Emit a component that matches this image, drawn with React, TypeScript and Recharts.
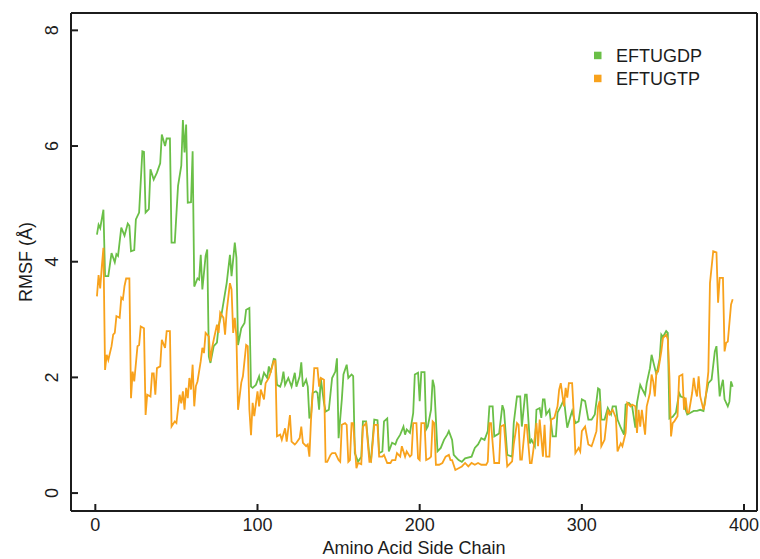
import { LineChart, Line, XAxis, YAxis, Legend, Label } from "recharts";

// EF-Tu RMSF per residue
const gdpResidue = [
  1, 2, 3, 5, 6, 8, 10, 12, 13, 14, 16, 18, 20, 21, 22, 24, 25, 27, 29, 30,
  31, 33, 34, 36, 38, 40, 41, 43, 44, 46, 47, 49, 51, 53, 54, 55, 56, 57, 59, 60,
  61, 63, 64, 65, 66, 68, 69, 70, 71, 73, 75, 76, 78, 80, 81, 83, 84, 86, 87, 88,
  90, 92, 93, 95, 96, 97, 99, 101, 102, 104, 106, 107, 108, 110, 111, 112, 114, 115, 116, 117,
  119, 121, 123, 124, 126, 127, 128, 130, 131, 132, 133, 134, 136, 137, 138, 139, 141, 142, 144, 146,
  148, 149, 150, 152, 153, 155, 156, 158, 159, 160, 162, 164, 165, 167, 169, 170, 172, 174, 175, 177,
  178, 180, 181, 183, 185, 186, 188, 190, 191, 192, 194, 196, 197, 199, 200, 201, 203, 204, 205, 207,
  208, 209, 211, 213, 215, 217, 218, 220, 221, 223, 224, 226, 228, 232, 234, 236, 238, 240, 242, 243,
  245, 246, 249, 251, 252, 254, 257, 258, 260, 262, 263, 265, 266, 268, 269, 271, 272, 274, 275, 276,
  277, 278, 280, 282, 284, 285, 287, 289, 290, 291, 293, 294, 296, 298, 300, 302, 304, 306, 308, 310,
  311, 312, 314, 316, 318, 319, 321, 322, 324, 326, 327, 329, 331, 333, 334, 336, 337, 339, 340, 342,
  343, 345, 346, 348, 349, 350, 352, 353, 354, 356, 358, 360, 361, 363, 364, 365, 367, 369, 371, 373,
  375, 376, 378, 380, 382, 383, 384, 385, 386, 387, 388, 390, 391, 392, 393,
];
const gdpRmsf = [
  4.47, 4.64, 4.58, 4.9, 3.75, 3.75, 4.15, 3.99, 4.13, 4.1, 4.59, 4.45, 4.66, 4.62, 4.18, 4.2, 4.73, 4.85, 5.91, 5.9,
  4.85, 4.91, 5.6, 5.42, 5.54, 5.7, 6.2, 6.0, 6.13, 6.13, 4.33, 4.33, 5.31, 5.66, 6.45, 5.89, 6.37, 5.02, 5.03, 5.91,
  3.57, 3.71, 3.69, 4.12, 3.52, 4.1, 4.21, 2.36, 2.25, 2.54, 2.6, 2.89, 3.12, 3.46, 3.63, 4.12, 3.75, 4.33, 4.07, 2.56,
  2.85, 2.94, 3.17, 3.2, 1.84, 1.82, 1.87, 2.02, 1.87, 2.08, 1.99, 2.19, 2.08, 2.32, 2.31, 1.87, 1.84, 1.93, 2.1, 1.87,
  1.99, 1.84, 2.08, 1.84, 2.02, 2.26, 1.84, 1.96, 1.84, 1.29, 1.35, 1.73, 1.76, 1.73, 1.44, 1.99, 1.56, 1.41, 1.44, 1.99,
  2.1, 2.33, 0.95, 1.62, 2.05, 2.22, 1.99, 2.05, 2.02, 0.69, 0.54, 0.63, 1.24, 1.24, 0.63, 0.57, 1.27, 1.26, 0.69, 0.72,
  1.24, 1.29, 0.72, 0.87, 0.84, 0.92, 1.01, 1.15, 1.01, 1.1, 1.04, 1.38, 2.05, 2.08, 1.59, 2.09, 2.09, 1.1, 1.15, 1.44,
  1.96, 1.84, 0.72, 0.78, 0.92, 1.01, 1.07, 0.92, 0.66, 0.6, 0.57, 0.54, 0.6, 0.63, 0.78, 0.84, 0.95, 0.92, 1.07, 1.5,
  1.5, 0.98, 1.03, 1.52, 1.43, 0.66, 0.63, 1.21, 1.67, 1.67, 1.15, 1.7, 1.7, 0.86, 0.92, 0.81, 1.44, 1.47, 1.3, 1.62,
  1.62, 1.36, 1.44, 0.98, 0.98, 1.39, 1.5, 1.62, 1.36, 1.13, 1.33, 1.42, 1.21, 1.24, 1.62, 1.59, 1.27, 1.27, 1.36, 1.81,
  1.79, 1.27, 1.27, 1.47, 1.36, 1.5, 1.5, 1.27, 1.13, 1.01, 1.53, 1.56, 1.5, 1.13, 1.56, 1.87, 1.81, 1.7, 1.9, 2.16,
  2.39, 2.16, 2.05, 2.33, 2.74, 2.7, 2.8, 2.77, 1.29, 1.32, 1.39, 1.73, 1.67, 1.65, 1.44, 1.36, 1.39, 1.42, 1.42, 1.44,
  1.42, 1.62, 1.9, 1.96, 2.45, 2.54, 2.1, 1.67, 1.84, 1.96, 1.62, 1.5, 1.58, 1.93, 1.84,
];

const gtpResidue = [
  1, 2, 3, 4, 5, 6, 7, 8, 10, 11, 12, 13, 15, 16, 17, 18, 19, 21, 22, 23,
  24, 26, 27, 28, 30, 31, 32, 34, 35, 36, 37, 38, 40, 41, 43, 44, 46, 47, 49, 50,
  52, 53, 54, 55, 56, 57, 58, 59, 60, 61, 62, 63, 65, 66, 67, 68, 70, 71, 72, 73,
  75, 76, 77, 79, 80, 81, 83, 84, 85, 86, 87, 88, 90, 91, 93, 94, 95, 96, 97, 98,
  100, 101, 102, 104, 105, 107, 108, 110, 111, 112, 114, 115, 117, 118, 120, 121, 123, 124, 126, 127,
  128, 130, 131, 132, 133, 135, 137, 138, 139, 141, 142, 143, 145, 146, 148, 150, 151, 152, 154, 155,
  156, 157, 158, 159, 161, 162, 164, 165, 167, 169, 170, 172, 174, 175, 177, 178, 180, 182, 183, 185,
  186, 188, 189, 191, 192, 194, 195, 196, 198, 199, 200, 201, 203, 204, 206, 207, 208, 209, 210, 212,
  214, 216, 218, 219, 220, 222, 224, 226, 228, 230, 232, 234, 236, 238, 241, 242, 243, 244, 246, 249,
  250, 252, 254, 257, 258, 260, 261, 262, 263, 265, 266, 268, 269, 270, 272, 273, 274, 276, 277, 278,
  280, 281, 283, 285, 286, 287, 289, 290, 291, 292, 294, 295, 296, 298, 299, 300, 302, 304, 306, 307,
  309, 310, 311, 312, 314, 316, 317, 319, 321, 322, 324, 325, 327, 328, 330, 331, 333, 334, 335, 336,
  337, 339, 340, 342, 343, 344, 345, 346, 347, 349, 350, 352, 353, 354, 355, 356, 357, 359, 360, 362,
  363, 364, 365, 366, 368, 369, 370, 371, 372, 373, 375, 376, 378, 379, 381, 383, 384, 385, 387, 388,
  389, 390, 392, 393,
];
const gtpRmsf = [
  3.4, 3.77, 3.54, 3.92, 4.24, 2.13, 2.39, 2.3, 2.54, 2.74, 2.77, 3.06, 3.03, 3.38, 3.35, 3.58, 3.71, 3.71, 1.64, 2.1,
  1.93, 2.54, 2.56, 2.88, 2.85, 1.35, 1.7, 1.67, 2.07, 2.07, 1.7, 2.16, 2.19, 2.65, 2.51, 2.8, 2.8, 1.15, 1.24, 1.21,
  1.7, 1.55, 1.76, 1.44, 1.82, 1.64, 1.99, 1.79, 2.22, 1.5, 1.85, 1.93, 2.28, 2.51, 2.42, 2.77, 2.71, 2.28, 2.51, 2.65,
  2.91, 2.77, 3.12, 3.03, 2.74, 3.14, 3.63, 3.52, 2.77, 3.03, 2.71, 1.44, 1.91, 2.02, 2.56, 2.54, 1.44, 1.0, 1.56, 1.33,
  1.76, 1.5, 1.79, 1.62, 1.9, 1.99, 2.08, 2.28, 2.28, 0.98, 1.01, 0.92, 1.12, 0.89, 1.35, 0.89, 0.84, 0.87, 0.95, 1.15,
  0.87, 0.81, 0.84, 0.63, 1.27, 2.16, 2.16, 1.84, 1.99, 1.96, 0.54, 0.54, 0.66, 0.69, 0.69, 0.57, 0.54, 1.18, 1.21, 1.18,
  0.54, 0.57, 1.21, 1.21, 0.43, 0.52, 0.5, 1.15, 1.21, 0.54, 0.54, 1.18, 1.18, 0.63, 0.63, 0.66, 0.52, 0.52, 0.57, 0.57,
  0.69, 0.63, 0.81, 0.63, 0.72, 0.63, 0.66, 1.21, 1.21, 0.6, 0.57, 1.21, 1.21, 0.57, 0.6, 0.63, 1.24, 1.21, 0.49, 0.49,
  0.52, 0.63, 0.66, 0.57, 0.57, 0.4, 0.43, 0.46, 0.52, 0.46, 0.52, 0.49, 0.52, 0.49, 0.49, 0.54, 1.21, 1.21, 0.52, 0.52,
  1.15, 1.18, 0.46, 0.55, 0.84, 1.21, 1.18, 0.58, 0.58, 1.18, 1.18, 0.52, 0.52, 0.72, 1.21, 0.81, 1.27, 0.63, 1.18, 0.63,
  0.63, 1.27, 1.3, 1.5, 1.79, 1.9, 1.5, 1.82, 1.65, 1.9, 1.9, 1.38, 0.69, 0.78, 0.72, 1.07, 1.15, 0.84, 0.81, 0.89,
  1.07, 1.5, 1.59, 0.81, 0.92, 1.44, 1.36, 1.44, 1.3, 0.72, 0.86, 0.81, 1.04, 1.56, 1.5, 1.53, 1.5, 1.04, 1.44, 1.15,
  1.44, 1.01, 1.5, 1.73, 2.05, 1.93, 1.67, 2.1, 2.1, 2.45, 2.68, 2.74, 2.66, 2.02, 0.98, 1.21, 1.24, 1.33, 2.02, 2.05,
  1.44, 1.65, 1.39, 1.39, 1.73, 1.99, 1.79, 1.67, 2.02, 1.67, 1.44, 1.56, 2.1, 3.63, 4.18, 4.16, 3.29, 3.72, 3.72, 2.45,
  2.6, 2.62, 3.26, 3.35,
];

const xTicks = [0, 100, 200, 300, 400];
const yTicks = [0, 2, 4, 6, 8];
const xDomain = [-15, 408];
const yDomain = [-0.31, 8.3];

const gdpData = gdpResidue.map((res, i) => ({ res, rmsf: gdpRmsf[i] }));
const gtpData = gtpResidue.map((res, i) => ({ res, rmsf: gtpRmsf[i] }));

const FONT = "'Liberation Sans', Arial, Helvetica, sans-serif";
const INK = "#1c1c1c";
const GREEN = "#6abf47";
const ORANGE = "#f8a21c";

const axisLine = { stroke: INK, strokeWidth: 2 };

function YTick({ x, y, payload }: any) {
  return (
    <text
      x={x}
      y={y}
      transform={`rotate(-90 ${x} ${y})`}
      textAnchor="middle"
      dy="0.36em"
      fontSize={18}
      fontFamily={FONT}
      fill={INK}
    >
      {payload.value}
    </text>
  );
}

function YTitle(props: any) {
  const vb = props.viewBox || { x: 0, y: 13, width: 71, height: 498 };
  const cx = vb.x + 25.5;
  const cy = vb.y + vb.height / 2;
  return (
    <text
      x={cx}
      y={cy}
      transform={`rotate(-90 ${cx} ${cy})`}
      textAnchor="middle"
      dy="0.36em"
      fontSize={18}
      fontFamily={FONT}
      fill={INK}
    >
      RMSF (Å)
    </text>
  );
}

function LegendBox({ payload }: any) {
  return (
    <svg width={160} height={52}>
      {(payload || []).map((p: any, i: number) => (
        <g key={p.value}>
          <rect x={4} y={11.7 + i * 23} width={7.5} height={7.5} fill={p.color} />
          <text x={26} y={22.3 + i * 22.5} fontSize={18} fontFamily={FONT} fill={INK}>
            {p.value}
          </text>
        </g>
      ))}
    </svg>
  );
}

export default function App() {
  return (
    <div style={{ position: "absolute", left: 0, top: 0, background: "#fff" }}>
      <LineChart width={760} height={559} margin={{ top: 12, right: 2, bottom: 0, left: 0 }}>
        <XAxis
          dataKey="res"
          type="number"
          domain={xDomain}
          ticks={xTicks}
          interval={0}
          allowDataOverflow
          height={48}
          tickSize={-7}
          tickMargin={14}
          axisLine={axisLine}
          tickLine={axisLine}
          tick={{ fontSize: 18, fontFamily: FONT, fill: INK }}
        >
          <Label
            value="Amino Acid Side Chain"
            position="insideBottom"
            offset={5}
            style={{ fontSize: 18, fontFamily: FONT, fill: INK }}
          />
        </XAxis>
        <XAxis
          xAxisId="top"
          orientation="top"
          type="number"
          domain={xDomain}
          ticks={xTicks}
          interval={0}
          allowDataOverflow
          height={1}
          tickSize={-7}
          axisLine={axisLine}
          tickLine={axisLine}
          tick={false}
        />
        <YAxis
          type="number"
          domain={yDomain}
          ticks={yTicks}
          interval={0}
          allowDataOverflow
          width={71}
          tickSize={-7}
          tickMargin={26}
          axisLine={axisLine}
          tickLine={axisLine}
          tick={<YTick />}
        >
          <Label content={<YTitle />} />
        </YAxis>
        <YAxis
          yAxisId="right"
          orientation="right"
          type="number"
          domain={yDomain}
          ticks={yTicks}
          interval={0}
          allowDataOverflow
          width={1}
          tickSize={-7}
          axisLine={axisLine}
          tickLine={axisLine}
          tick={false}
        />
        <Legend
          layout="vertical"
          align="center"
          verticalAlign="middle"
          content={<LegendBox />}
          wrapperStyle={{ left: 590, top: 40, width: 160, height: 52 }}
        />
        <Line
          data={gdpData}
          dataKey="rmsf"
          name="EFTUGDP"
          type="linear"
          stroke={GREEN}
          strokeWidth={1.8}
          dot={false}
          isAnimationActive={false}
        />
        <Line
          data={gtpData}
          dataKey="rmsf"
          name="EFTUGTP"
          type="linear"
          stroke={ORANGE}
          strokeWidth={1.8}
          dot={false}
          isAnimationActive={false}
        />
      </LineChart>
    </div>
  );
}
